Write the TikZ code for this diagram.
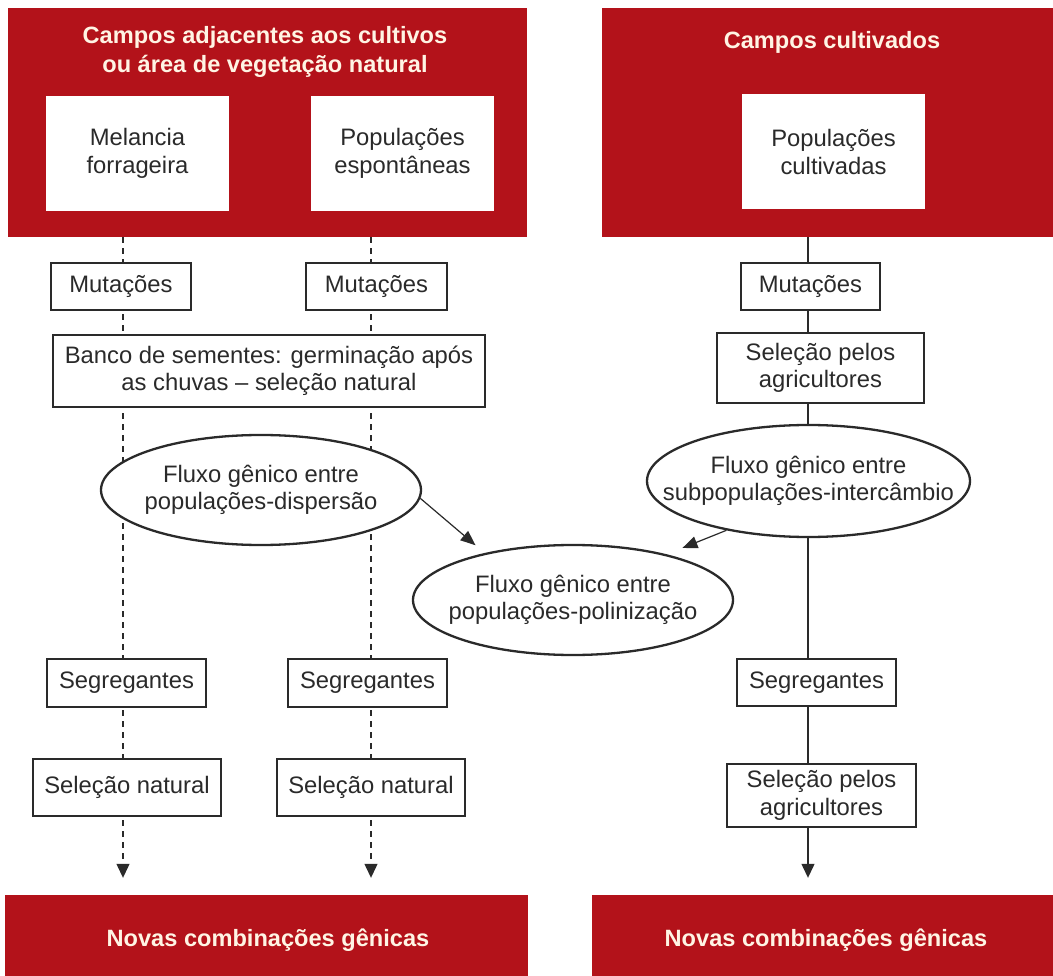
\documentclass[tikz,border=0pt]{standalone}
\usepackage{fontspec}
\setmainfont{Liberation Sans}
\usetikzlibrary{shapes.geometric,arrows.meta,backgrounds}
\definecolor{emred}{HTML}{B3121A}
\definecolor{ink}{HTML}{2A2A2A}
\definecolor{cream}{HTML}{FFF4E4}

\begin{document}
\begin{tikzpicture}[x=1pt,y=-1pt,
  every node/.style={font=\fontsize{23.8}{27.5}\selectfont, text=ink, align=center},
  panel/.style={rectangle, fill=emred, draw=none, inner sep=0pt},
  heading/.style={font=\fontsize{23.6}{29}\selectfont\bfseries, text=cream},
  whitebox/.style={rectangle, fill=white, inner sep=0pt},
  stepbox/.style={rectangle, draw=ink, line width=2pt, fill=white, inner sep=0pt},
  flow/.style={ellipse, draw=ink, line width=2.3pt, fill=white, inner xsep=-100pt,
    inner ysep=0pt, minimum width=320pt, minimum height=110pt},
  dashlink/.style={draw=ink, line width=1.2pt, dash pattern=on 6pt off 5pt,
    -{Triangle[length=14pt,width=13pt]}, shorten >=17pt},
  solidlink/.style={draw=ink, line width=1.3pt,
    -{Triangle[length=14pt,width=13pt]}, shorten >=17pt},
  gene/.style={draw=ink, line width=1.2pt, -{Triangle[length=15pt,width=12pt]}}
]
\useasboundingbox (0,0) rectangle (1053,976);

% red panels: sources on top, outcomes at the bottom
\node[panel, minimum width=519pt, minimum height=229pt] (topL) at (267.5,122.5) {};
\node[panel, minimum width=451pt, minimum height=229pt] (topR) at (827.5,122.5) {};
\node[panel, minimum width=523pt, minimum height=81pt] (botL) at (266.5,935.5) {};
\node[panel, minimum width=461pt, minimum height=81pt] (botR) at (822.5,935.5) {};

\node[heading] (hL) at (265,52) {Campos adjacentes aos cultivos\\ou área de vegetação natural};
\node[heading] (hR) at (832,42) {Campos cultivados};
\node[heading] (nL) at (268,940) {Novas combinações gênicas};
\node[heading] (nR) at (826,940) {Novas combinações gênicas};

% populations inside the source panels
\node[whitebox, minimum width=183pt, minimum height=115pt] (melon) at (137.5,153.5) {Melancia\\forrageira};
\node[whitebox, minimum width=183pt, minimum height=115pt] (spont) at (402.5,153.5) {Populações\\espontâneas};
\node[whitebox, minimum width=183pt, minimum height=115pt] (cult) at (833.5,152) {Populações\\cultivadas};

% column axes
\coordinate (c1) at (123,0);
\coordinate (c2) at (371,0);
\coordinate (c3) at (808,0);

% process steps
\node[stepbox, minimum width=140pt, minimum height=47pt] (mutL) at (121,286.5) {Mutações};
\node[stepbox, minimum width=141pt, minimum height=47pt] (mutM) at (376.5,286.5) {Mutações};
\node[stepbox, minimum width=139pt, minimum height=47pt] (mutR) at (810.5,286.5) {Mutações};
\node[stepbox, minimum width=432pt, minimum height=72pt] (bank) at (269,371) {Banco de sementes: germinação após\\as chuvas -- seleção natural};
\node[stepbox, minimum width=207pt, minimum height=70pt] (selR1) at (820.5,368) {Seleção pelos\\agricultores};

\node[flow] (dispL) at (261,490) {Fluxo gênico entre\\populações-dispersão};
\node[flow, minimum width=323pt, minimum height=112pt] (subp) at (808.5,481) {Fluxo gênico entre\\subpopulações-intercâmbio};
\node[flow] (polin) at (573,600) {Fluxo gênico entre\\populações-polinização};

\node[stepbox, minimum width=159pt, minimum height=48pt] (segL) at (126.5,683) {Segregantes};
\node[stepbox, minimum width=159pt, minimum height=48pt] (segM) at (367.5,683) {Segregantes};
\node[stepbox, minimum width=159pt, minimum height=47pt] (segR) at (816.5,682.5) {Segregantes};
\node[stepbox, minimum width=188pt, minimum height=57pt] (selNL) at (127,787) {Seleção natural};
\node[stepbox, minimum width=188pt, minimum height=57pt] (selNM) at (371,787) {Seleção natural};
\node[stepbox, minimum width=189pt, minimum height=63pt] (selR2) at (821.5,795.5) {Seleção pelos\\agricultores};

% gene flow towards pollination
\draw[gene, shorten >=12pt] (dispL.-3) -- (polin.152);
\draw[gene, shorten >=17pt] (subp.211) -- (polin.26);

% column lines run behind the white steps
\begin{scope}[on background layer]
  \fill[white] (0,0) rectangle (1053,976);
  \draw[dashlink] (topL.south -| c1) -- (botL.north -| c1);
  \draw[dashlink] (topL.south -| c2) -- (botL.north -| c2);
  \draw[solidlink] (topR.south -| c3) -- (botR.north -| c3);
\end{scope}
\end{tikzpicture}
\end{document}
